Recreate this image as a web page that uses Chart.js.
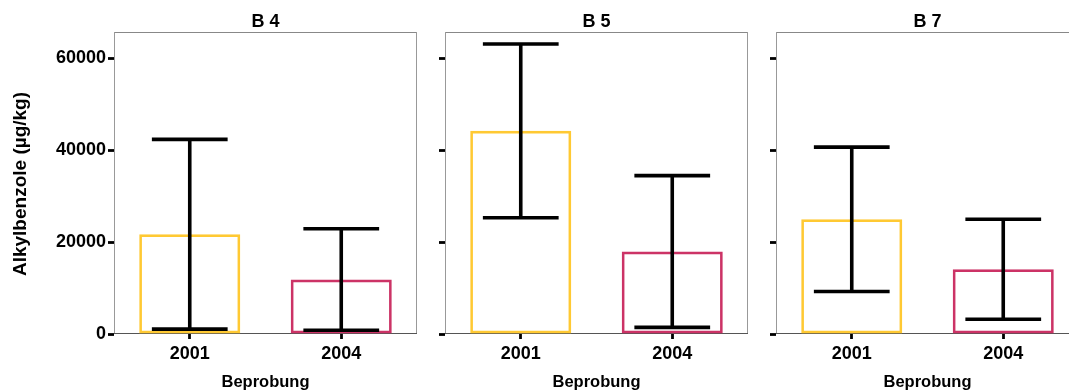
<!DOCTYPE html>
<html>
<head>
<meta charset="utf-8">
<script src="https://cdn.jsdelivr.net/npm/chart.js@4/dist/chart.umd.min.js"></script>
<style>
  html, body { margin: 0; padding: 0; background: #fff; overflow: hidden; }
  #wrap { position: relative; width: 1069px; height: 391px; overflow: hidden; }
  .panel { position: absolute; top: 0; height: 391px; }
</style>
</head>
<body>
<div id="wrap">
  <div class="panel" style="left:0px;width:420px"><canvas id="p0" width="420" height="391"></canvas></div>
  <div class="panel" style="left:420px;width:330px"><canvas id="p1" width="330" height="391"></canvas></div>
  <div class="panel" style="left:750px;width:330px"><canvas id="p2" width="330" height="391"></canvas></div>
</div>
<script>
// Sampling years and sites
const categories = ['2001', '2004'];
const sites = ['B 4', 'B 5', 'B 7'];

// Mean alkylbenzene content per site (µg/kg) and standard deviations
const meanB4 = [21700, 11850];
const sdB4 = [20650, 11050];
const meanB5 = [44200, 17950];
const sdB5 = [18900, 16500];
const meanB7 = [24950, 14100];
const sdB7 = [15700, 10880];

// Axis ticks
const yTicks = [0, 20000, 40000, 60000];
const yMax = 65700;

const yTitle = 'Alkylbenzole (µg/kg)';
const xTitle = 'Beprobung';

const barColors = ['#FFC933', '#CC3366'];

const FONT = "'Liberation Sans', Arial, Helvetica, sans-serif";
Chart.defaults.font.family = FONT;
Chart.defaults.font.weight = 'bold';
Chart.defaults.color = '#000';

// Panel border, titles and error bars
const facetPlugin = {
  id: 'facet',
  beforeDatasetsDraw(chart) {
    const { ctx, chartArea: a } = chart;
    ctx.save();
    ctx.lineWidth = 1;
    const seg = (x1, y1, x2, y2, c) => {
      ctx.strokeStyle = c;
      ctx.beginPath(); ctx.moveTo(x1, y1); ctx.lineTo(x2, y2); ctx.stroke();
    };
    seg(a.left, a.top + 0.5, a.right, a.top + 0.5, '#888');
    seg(a.left + 0.5, a.top, a.left + 0.5, a.bottom, '#999');
    seg(a.right - 0.5, a.top, a.right - 0.5, a.bottom, '#999');
    seg(a.left, a.bottom - 0.5, a.right, a.bottom - 0.5, '#555');
    ctx.restore();
  },
  afterDatasetsDraw(chart, args, opts) {
    const { ctx, chartArea: a, scales } = chart;
    const meta = chart.getDatasetMeta(0);
    const xs = scales.x, ys = scales.y;
    const catW = xs.getPixelForValue(1) - xs.getPixelForValue(0);
    const half = catW * 0.25;
    ctx.save();
    ctx.strokeStyle = '#000';
    ctx.lineWidth = 3.6;
    ctx.lineCap = 'butt';
    opts.means.forEach((m, i) => {
      const x = meta.data[i].x;
      const yHi = ys.getPixelForValue(m + opts.sds[i]);
      const yLo = ys.getPixelForValue(m - opts.sds[i]);
      ctx.beginPath();
      ctx.moveTo(x, yHi); ctx.lineTo(x, yLo);
      ctx.moveTo(x - half, yHi); ctx.lineTo(x + half, yHi);
      ctx.moveTo(x - half, yLo); ctx.lineTo(x + half, yLo);
      ctx.stroke();
    });
    // strip title
    const cx = (a.left + a.right) / 2;
    ctx.fillStyle = '#000';
    ctx.textAlign = 'center';
    ctx.textBaseline = 'middle';
    ctx.font = 'bold 18px ' + FONT;
    ctx.fillText(opts.title, cx, 22);
    // x axis title
    ctx.font = 'bold 16.5px ' + FONT;
    ctx.fillText(xTitle, cx, 382);
    // y axis title (first panel only)
    if (opts.showYTitle) {
      ctx.save();
      ctx.translate(21, (a.top + a.bottom) / 2 + 1);
      ctx.rotate(-Math.PI / 2);
      ctx.font = 'bold 19px ' + FONT;
      ctx.fillText(yTitle, 0, 0);
      ctx.restore();
    }
    ctx.restore();
  }
};

function makePanel(id, title, means, sds, yWidth, padRight, showLabels) {
  return new Chart(document.getElementById(id), {
    type: 'bar',
    data: {
      labels: categories,
      datasets: [{
        data: means,
        backgroundColor: 'rgba(255,255,255,0)',
        borderColor: barColors,
        borderWidth: 2.7,
        borderSkipped: false,
        barPercentage: 0.667,
        categoryPercentage: 1
      }]
    },
    options: {
      responsive: false,
      animation: false,
      events: [],
      layout: { padding: { top: 32, right: padRight, left: 0, bottom: 0 } },
      plugins: {
        legend: { display: false },
        tooltip: { enabled: false },
        title: { display: false },
        facet: { title: title, means: means, sds: sds, showYTitle: showLabels }
      },
      scales: {
        x: {
          offset: true,
          grid: { offset: false, drawOnChartArea: false, drawTicks: true, tickLength: 5, tickColor: '#000', tickWidth: 2.8 },
          border: { display: false },
          ticks: { padding: 4, font: { size: 18, weight: 'bold' }, color: '#000', maxRotation: 0 },
          afterFit(s) { s.height = 57; }
        },
        y: {
          min: 0,
          max: yMax,
          afterBuildTicks(s) { s.ticks = yTicks.map(v => ({ value: v })); },
          grid: { drawOnChartArea: false, drawTicks: true, tickLength: 6, tickColor: '#000', tickWidth: 2.8 },
          border: { display: false },
          ticks: {
            padding: 2,
            font: { size: 18, weight: 'bold' },
            color: showLabels ? '#000' : 'rgba(0,0,0,0)',
            callback: v => String(v)
          },
          afterFit(s) { s.width = yWidth; }
        }
      }
    },
    plugins: [facetPlugin]
  });
}

makePanel('p0', sites[0], meanB4, sdB4, 114, 3, true);
makePanel('p1', sites[1], meanB5, sdB5, 25, 2, false);
makePanel('p2', sites[2], meanB7, sdB7, 26, 1, false);
</script>
</body>
</html>
